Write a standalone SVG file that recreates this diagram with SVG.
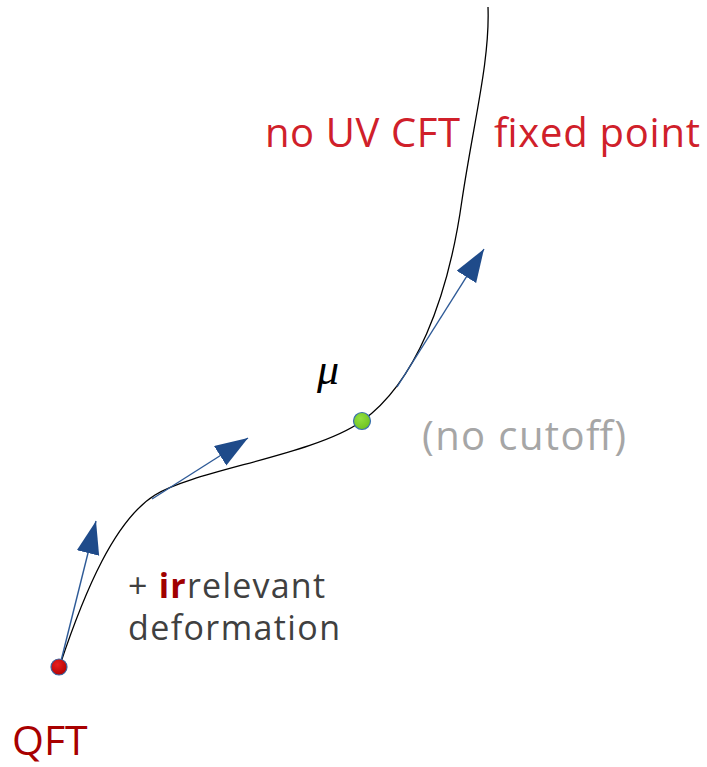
<svg xmlns="http://www.w3.org/2000/svg" width="707" height="767" viewBox="0 0 707 767">
<style>
.flow{fill:none;stroke:#000;stroke-width:1.3}
.arr{fill:none;stroke:#2e5a97;stroke-width:1.4}
.t{font-family:"Open Sans","DejaVu Sans",sans-serif}
</style>
<defs>
<marker id="ah" markerUnits="userSpaceOnUse" markerWidth="34" markerHeight="24" refX="33" refY="11.5" orient="auto" viewBox="0 0 34 24">
<path d="M0,0 L33,11.5 L0,23 z" fill="#1f4b8a"/>
</marker>
<radialGradient id="gr" cx="0.4" cy="0.35" r="0.7"><stop offset="0" stop-color="#e82020"/><stop offset="1" stop-color="#b00000"/></radialGradient>
<radialGradient id="gg" cx="0.4" cy="0.35" r="0.7"><stop offset="0" stop-color="#92e040"/><stop offset="1" stop-color="#6cc020"/></radialGradient>
</defs>
<g id="connectors">
<path class="flow" d="M60,665 C85,590 115,520 155,495 C195,470 315,455 362,421 C415,383 448,300 462,200 C474,120 490,60 488,7"/>
<line class="arr" x1="60" y1="665" x2="96" y2="521" marker-end="url(#ah)"/>
<line class="arr" x1="152" y1="499" x2="248" y2="438" marker-end="url(#ah)"/>
<line class="arr" x1="397" y1="387" x2="484" y2="249" marker-end="url(#ah)"/>
</g>
<g id="qft">
<circle cx="59" cy="667" r="8" fill="url(#gr)" stroke="#3a64a0" stroke-width="1.2"/>
<text class="t" x="12" y="755" font-size="41" fill="#a80000">QFT</text>
</g>
<g id="mu">
<circle cx="362" cy="421" r="8.5" fill="url(#gg)" stroke="#3a70b0" stroke-width="1.2"/>
<text x="317" y="384" font-family="Liberation Serif,serif" font-style="italic" font-size="44" fill="#000">μ</text>
<text class="t" x="422" y="450" font-size="40" fill="#a6a6a6" textLength="204">(no cutoff)</text>
</g>
<g id="uv">
<text class="t" x="265" y="147" font-size="40" fill="#d0202a" textLength="195">no UV CFT</text>
<text class="t" x="494" y="147" font-size="40" fill="#d0202a" textLength="206">fixed point</text>
</g>
<g id="deformation">
<text class="t" x="128" y="598" font-size="34" fill="#404040" textLength="197">+ <tspan font-weight="bold" fill="#a00000">ir</tspan>relevant</text>
<text class="t" x="128" y="640" font-size="34" fill="#404040" textLength="212">deformation</text>
</g>
</svg>
